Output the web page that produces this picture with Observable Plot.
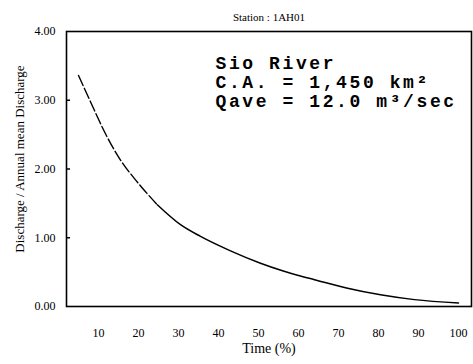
<!DOCTYPE html>
<html><head><meta charset="utf-8">
<script src="https://cdn.jsdelivr.net/npm/d3@7"></script>
<script src="https://cdn.jsdelivr.net/npm/@observablehq/plot@0.6"></script>
<style>body{margin:0;background:#fff} svg{display:block}</style>
</head><body><div id="chart"></div>
<script>
const timePct = [5, 9, 11, 15.5, 19, 21, 24.7, 30.5, 35.5, 43, 50.5, 56, 60, 64, 72, 80.5, 89, 100];
const ratio = [3.36, 2.85, 2.6, 2.13, 1.86, 1.72, 1.48, 1.19, 1.02, 0.81, 0.63, 0.52, 0.45, 0.39, 0.27, 0.17, 0.10, 0.05];
const xTicks = [10, 20, 30, 40, 50, 60, 70, 80, 90, 100];
const yTicks = [0, 1, 2, 3, 4];
const title = "Station : 1AH01";
const yLabel = "Discharge / Annual mean Discharge";
const xLabel = "Time (%)";
const noteLines = ["Sio River", "C.A. = 1,450 km²", "Qave = 12.0 m³/sec"];

const data = timePct.map((t, i) => ({t, r: ratio[i]}));
const serif = "'Liberation Serif', 'Times New Roman', serif";
const breakAt = 24.7;

const chart = Plot.plot({
  width: 473, height: 364,
  marginTop: 31, marginBottom: 58, marginLeft: 66, marginRight: 2,
  style: {fontFamily: serif, fontSize: "12px", color: "#000", background: "#fff"},
  x: {domain: [2, 103.25]},
  y: {domain: [0, 4]},
  marks: [
    Plot.frame({stroke: "#000", strokeWidth: 1.6}),
    Plot.axisX(xTicks, {tickSize: 0, tickPadding: 22, label: null}),
    Plot.axisY(yTicks, {tickSize: 0, tickPadding: 11, tickFormat: d3.format(".2f"), label: null}),
    Plot.tickY(yTicks.slice(1, 4), {y: d => d, insetRight: 401, stroke: "#000", strokeWidth: 1.5}),
    Plot.line(data.filter(d => d.t <= breakAt), {x: "t", y: "r", curve: "monotone-x", stroke: "#000", strokeWidth: 1.4, strokeDasharray: "11,3"}),
    Plot.line(data.filter(d => d.t >= breakAt), {x: "t", y: "r", curve: "monotone-x", stroke: "#000", strokeWidth: 1.5}),
    Plot.text([title], {text: d => d, frameAnchor: "top", dy: -18, fontSize: 11}),
    Plot.text([yLabel], {text: d => d, frameAnchor: "left", textAnchor: "middle", rotate: -90, dx: -47, dy: -10, fontSize: 13}),
    Plot.text([xLabel], {text: d => d, frameAnchor: "bottom", dy: 46, fontSize: 14}),
    Plot.text([noteLines.join("\n")], {text: d => d, frameAnchor: "top-left", textAnchor: "start", lineAnchor: "top", dx: 149, dy: 24, fontFamily: "'Liberation Mono', 'Courier New', monospace", fontWeight: "bold", fontSize: 18, lineHeight: 1.05})
  ]
});
chart.querySelectorAll("text").forEach(t => {
  if (t.textContent.startsWith("Sio")) t.style.letterSpacing = "2.6px";
});
document.getElementById("chart").appendChild(chart);
</script>
</body></html>
